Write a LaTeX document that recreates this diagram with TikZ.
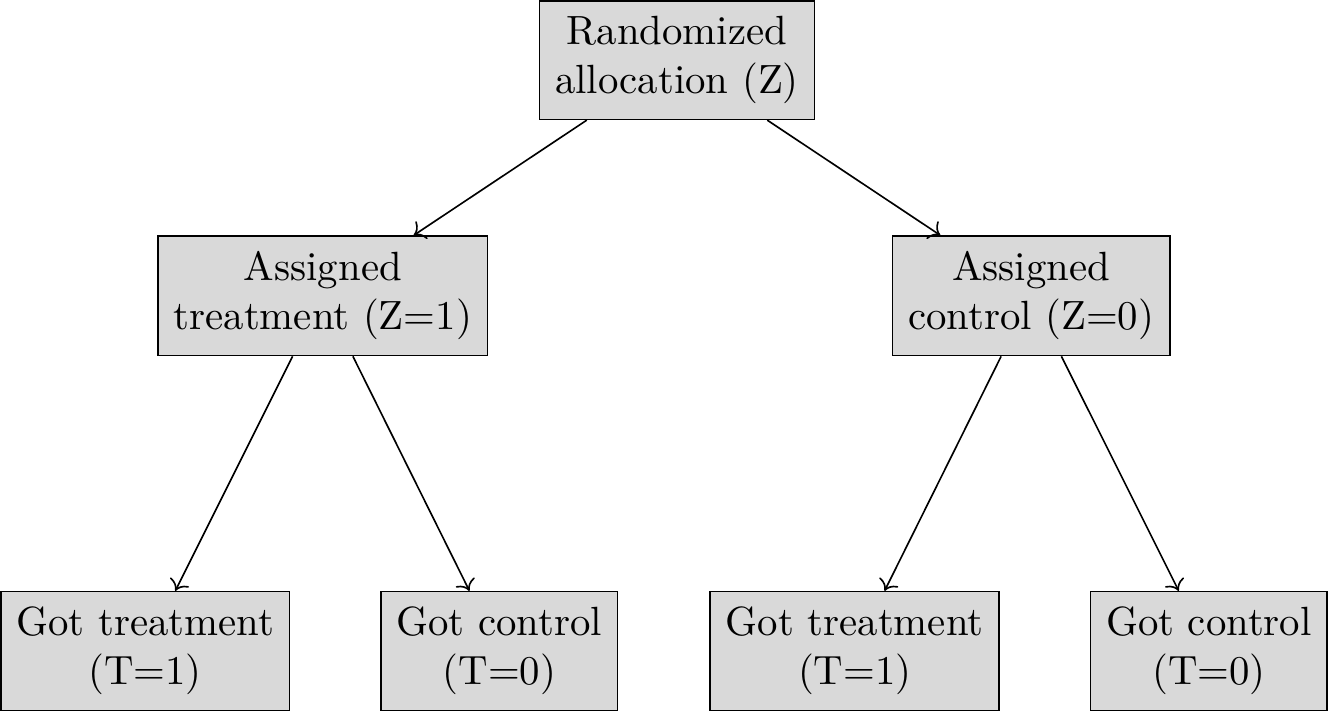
\documentclass[tikz,border=0pt]{standalone}
\usepackage{amsmath}
\usepackage{xcolor}
\usepackage{tikz}
\usetikzlibrary{arrows.meta, positioning}

\begin{document}
\begin{tikzpicture} [
          box/.style = {draw, fill = gray!30, align = center, inner sep = 3.8pt}
          ]

          \node (rand) [box] at (0,0) {Randomized\\allocation (Z)};
          \node (asgt) [box] at (-3.05,-2.03) {Assigned\\treatment (Z=1)};
          \node (asgc) [box] at (3.05,-2.03) {Assigned\\control (Z=0)};
          \node (tgt) [box] at (-4.58,-5.09) {Got treatment\\(T=1)};
          \node (tgc) [box] at (-1.53,-5.09) {Got control\\(T=0)};
          \node (cgt) [box] at (1.53,-5.09) {Got treatment\\(T=1)};
          \node (cgc) [box] at (4.58,-5.09) {Got control\\(T=0)};

          % Links
          \draw[->] (rand) -- (asgt);
          \draw[->] (rand) -- (asgc);
          \draw[->] (asgt) -- (tgt);
          \draw[->] (asgt) -- (tgc);
          \draw[->] (asgc) -- (cgt);
          \draw[->] (asgc) -- (cgc);

        \end{tikzpicture}
\end{document}
